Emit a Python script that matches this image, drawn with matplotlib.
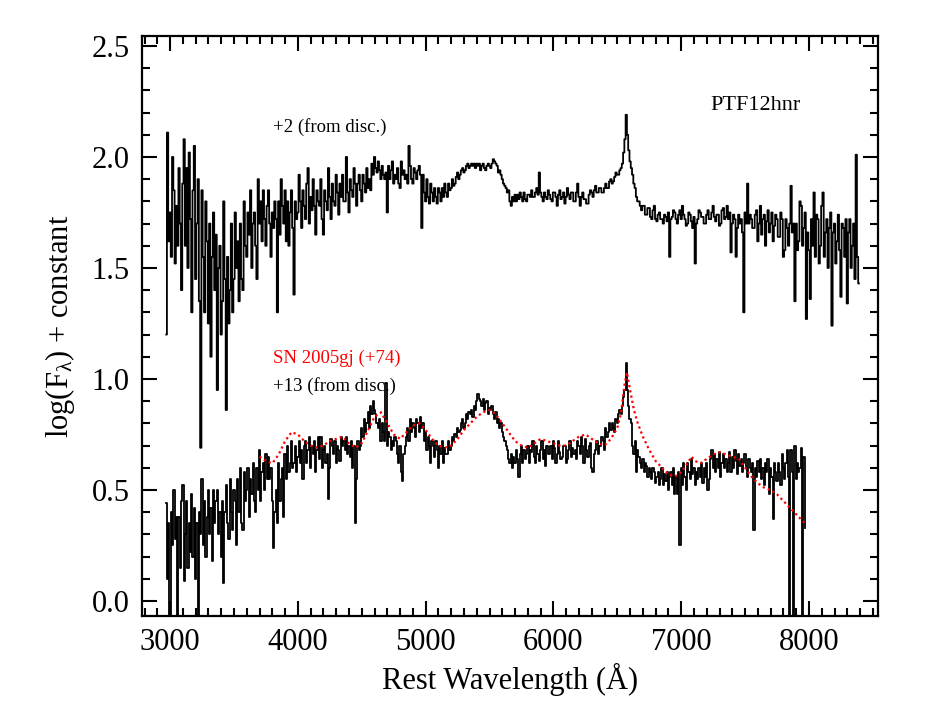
import numpy as np
import matplotlib
matplotlib.use("Agg")
import matplotlib.pyplot as plt
from matplotlib.ticker import MultipleLocator, FormatStrFormatter

plt.rcParams['font.family'] = ['Liberation Serif', 'DejaVu Serif']
plt.rcParams['mathtext.fontset'] = 'custom'
plt.rcParams['mathtext.rm'] = 'Liberation Serif'
plt.rcParams['mathtext.it'] = 'Liberation Serif'

# ---- PTF12hnr, +2 d (offset spectrum), 10 A bins starting at 2970 A
top_start, top_step = 2970, 10
top_flux = [
    # 2970
    1.20, 2.11, 1.62, 1.75, 1.55, 2.00, 1.85, 1.52, 1.78, 1.60, 1.95, 1.70, 1.40, 1.88, 2.08, 1.60, 1.95, 1.50, 2.02, 1.72,
    # 3170
    1.30, 1.85, 2.05, 1.45, 1.70, 1.90, 1.35, 0.69, 1.85, 1.55, 1.30, 1.80, 1.62, 1.25, 1.70, 1.10, 1.55, 1.75, 1.40, 1.65,
    # 3370
    0.95, 1.50, 1.60, 1.20, 1.35, 1.80, 1.45, 0.86, 1.55, 1.25, 1.40, 1.70, 1.30, 1.45, 1.75, 1.50, 1.62, 1.35, 1.70, 1.45,
    # 3570
    1.40, 1.80, 1.60, 1.55, 1.75, 1.65, 1.85, 1.50, 1.70, 1.75, 1.60, 1.45, 1.90, 1.70, 1.80, 1.62, 1.85, 1.72, 1.60, 1.78,
    # 3770
    1.85, 1.70, 1.55, 1.75, 1.68, 1.80, 1.72, 1.30, 1.80, 1.65, 1.90, 1.78, 1.70, 1.85, 1.62, 1.80, 1.60, 1.75, 1.85, 1.68,
    # 3970
    1.38, 1.80, 1.72, 1.75, 1.92, 1.80, 1.68, 1.85, 1.78, 1.72, 1.88, 1.95, 1.70, 1.82, 1.76, 1.90, 1.78, 1.65, 1.85, 1.80,
    # 4170
    1.78, 1.90, 1.72, 1.65, 1.85, 1.80, 1.76, 1.95, 1.82, 1.72, 1.88, 1.80, 1.78, 1.92, 1.84, 1.74, 1.88, 1.82, 1.92, 1.80,
    # 4370
    1.80, 2.00, 1.84, 1.75, 1.90, 1.85, 1.82, 1.95, 1.88, 1.78, 1.88, 1.92, 1.85, 1.80, 1.92, 1.88, 1.84, 1.95, 1.86, 1.90,
    # 4570
    1.85, 1.97, 1.92, 2.00, 1.95, 1.93, 1.98, 1.94, 1.90, 1.96, 1.92, 1.90, 1.93, 1.75, 1.96, 1.90, 1.94, 1.98, 1.88, 1.92,
    # 4770
    1.90, 1.95, 1.88, 1.86, 1.98, 1.92, 1.94, 1.90, 1.92, 1.88, 2.05, 1.96, 1.90, 1.88, 1.95, 1.93, 1.90, 1.94, 1.96, 1.92,
    # 4970
    1.68, 1.92, 1.84, 1.80, 1.90, 1.82, 1.79, 1.88, 1.84, 1.80, 1.86, 1.82, 1.79, 1.86, 1.84, 1.80, 1.86, 1.82, 1.88, 1.84,
    # 5170
    1.82, 1.88, 1.85, 1.86, 1.90, 1.87, 1.88, 1.91, 1.93, 1.90, 1.92, 1.94, 1.95, 1.93, 1.94, 1.96, 1.97, 1.95, 1.96, 1.97,
    # 5370
    1.96, 1.97, 1.95, 1.97, 1.96, 1.97, 1.94, 1.96, 1.97, 1.95, 1.94, 1.96, 1.97, 1.96, 1.95, 1.97, 1.99, 1.98, 1.97, 1.96,
    # 5570
    1.93, 1.94, 1.92, 1.90, 1.88, 1.87, 1.86, 1.84, 1.85, 1.80, 1.78, 1.82, 1.80, 1.83, 1.80, 1.83, 1.81, 1.84, 1.82, 1.80,
    # 5770
    1.84, 1.81, 1.80, 1.83, 1.83, 1.82, 1.85, 1.82, 1.82, 1.84, 1.86, 1.83, 1.93, 1.84, 1.82, 1.80, 1.84, 1.82, 1.81, 1.85,
    # 5970
    1.83, 1.81, 1.80, 1.84, 1.84, 1.82, 1.78, 1.83, 1.85, 1.81, 1.82, 1.84, 1.79, 1.82, 1.86, 1.83, 1.81, 1.84, 1.84, 1.80,
    # 6170
    1.80, 1.84, 1.88, 1.82, 1.78, 1.82, 1.84, 1.81, 1.81, 1.79, 1.79, 1.83, 1.85, 1.84, 1.82, 1.85, 1.87, 1.84, 1.84, 1.86,
    # 6370
    1.86, 1.84, 1.84, 1.86, 1.88, 1.86, 1.86, 1.89, 1.90, 1.88, 1.89, 1.91, 1.93, 1.92, 1.92, 1.94, 1.95, 1.97, 2.02, 2.08,
    # 6570
    2.19, 2.10, 2.03, 1.98, 1.95, 1.92, 1.88, 1.86, 1.82, 1.80, 1.80, 1.78, 1.76, 1.78, 1.78, 1.74, 1.74, 1.77, 1.77, 1.73,
    # 6770
    1.72, 1.76, 1.78, 1.72, 1.71, 1.74, 1.75, 1.72, 1.72, 1.70, 1.74, 1.73, 1.71, 1.75, 1.55, 1.72, 1.73, 1.76, 1.75, 1.72,
    # 6970
    1.70, 1.74, 1.76, 1.72, 1.78, 1.74, 1.72, 1.69, 1.70, 1.75, 1.74, 1.71, 1.68, 1.73, 1.52, 1.70, 1.72, 1.76, 1.75, 1.73,
    # 7170
    1.73, 1.70, 1.70, 1.74, 1.76, 1.72, 1.72, 1.75, 1.78, 1.73, 1.71, 1.74, 1.74, 1.69, 1.70, 1.76, 1.77, 1.72, 1.73, 1.78,
    # 7370
    1.72, 1.75, 1.57, 1.70, 1.74, 1.72, 1.55, 1.68, 1.74, 1.70, 1.72, 1.66, 1.30, 1.75, 1.70, 1.88, 1.70, 1.74, 1.72, 1.68,
    # 7570
    1.68, 1.74, 1.76, 1.62, 1.70, 1.78, 1.65, 1.72, 1.74, 1.60, 1.71, 1.76, 1.66, 1.70, 1.75, 1.62, 1.69, 1.74, 1.72, 1.64,
    # 7770
    1.64, 1.75, 1.72, 1.55, 1.58, 1.72, 1.68, 1.60, 1.70, 1.87, 1.66, 1.70, 1.35, 1.70, 1.58, 1.62, 1.80, 1.78, 1.60, 1.68,
    # 7970
    1.75, 1.27, 1.66, 1.58, 1.36, 1.72, 1.60, 1.84, 1.55, 1.74, 1.72, 1.52, 1.60, 1.78, 1.84, 1.55, 1.66, 1.72, 1.50, 1.68,
    # 8170
    1.75, 1.24, 1.66, 1.70, 1.52, 1.62, 1.74, 1.58, 1.37, 1.70, 1.68, 1.55, 1.72, 1.34, 1.66, 1.72, 1.50, 1.60, 1.70, 1.45,
    # 8370
    2.01, 1.55, 1.43,
]

# ---- PTF12hnr, +13 d, 10 A bins starting at 2970 A
bot_start, bot_step = 2970, 10
bot_flux = [
    # 2970
    0.44, 0.10, 0.35, -0.10, 0.40, 0.25, 0.50, 0.28, 0.38, -0.10, 0.38, 0.15, 0.45, 0.52, 0.09, 0.30, 0.45, 0.15, 0.35, 0.22,
    # 3170
    0.48, 0.20, 0.42, 0.10, 0.35, -0.10, 0.40, 0.30, 0.55, 0.25, 0.45, 0.20, 0.38, 0.50, 0.30, 0.42, 0.18, 0.50, 0.35, 0.45,
    # 3370
    0.50, 0.30, 0.40, 0.20, 0.45, 0.08, 0.40, 0.52, 0.35, 0.28, 0.55, 0.40, 0.32, 0.50, 0.45, 0.25, 0.55, 0.40, 0.60, 0.35,
    # 3570
    0.32, 0.58, 0.45, 0.50, 0.60, 0.38, 0.55, 0.48, 0.62, 0.45, 0.40, 0.60, 0.50, 0.68, 0.45, 0.58, 0.62, 0.50, 0.66, 0.55,
    # 3770
    0.65, 0.55, 0.60, 0.45, 0.24, 0.40, 0.50, 0.35, 0.62, 0.45, 0.55, 0.60, 0.38, 0.66, 0.55, 0.70, 0.58, 0.62, 0.72, 0.60,
    # 3970
    0.62, 0.70, 0.58, 0.65, 0.72, 0.62, 0.68, 0.55, 0.70, 0.72, 0.62, 0.68, 0.74, 0.60, 0.70, 0.66, 0.72, 0.58, 0.68, 0.74,
    # 4170
    0.64, 0.74, 0.60, 0.68, 0.70, 0.62, 0.66, 0.46, 0.60, 0.73, 0.70, 0.66, 0.72, 0.62, 0.70, 0.68, 0.63, 0.74, 0.70, 0.72,
    # 4370
    0.68, 0.74, 0.66, 0.70, 0.65, 0.72, 0.60, 0.70, 0.35, 0.55, 0.72, 0.68, 0.70, 0.78, 0.74, 0.82, 0.76, 0.80, 0.85, 0.78,
    # 4570
    0.88, 0.84, 0.90, 0.86, 0.84, 0.80, 0.78, 0.82, 0.72, 0.80, 0.76, 0.72, 0.98, 0.70, 0.76, 0.74, 0.68, 0.72, 0.70, 0.74,
    # 4770
    0.72, 0.66, 0.62, 0.70, 0.58, 0.54, 0.66, 0.70, 0.74, 0.78, 0.72, 0.82, 0.76, 0.80, 0.78, 0.74, 0.82, 0.80, 0.76, 0.83,
    # 4970
    0.78, 0.80, 0.72, 0.76, 0.68, 0.74, 0.70, 0.62, 0.72, 0.70, 0.65, 0.72, 0.68, 0.60, 0.70, 0.66, 0.72, 0.62, 0.69, 0.66,
    # 5170
    0.66, 0.72, 0.68, 0.70, 0.74, 0.72, 0.75, 0.74, 0.78, 0.76, 0.77, 0.80, 0.82, 0.78, 0.80, 0.84, 0.82, 0.85, 0.84, 0.86,
    # 5370
    0.83, 0.88, 0.86, 0.90, 0.93, 0.91, 0.90, 0.88, 0.91, 0.86, 0.89, 0.90, 0.84, 0.87, 0.86, 0.88, 0.84, 0.82, 0.85, 0.80,
    # 5570
    0.82, 0.78, 0.80, 0.76, 0.74, 0.72, 0.70, 0.68, 0.64, 0.62, 0.66, 0.60, 0.65, 0.62, 0.68, 0.64, 0.56, 0.66, 0.70, 0.62,
    # 5770
    0.68, 0.64, 0.66, 0.70, 0.62, 0.68, 0.67, 0.72, 0.65, 0.62, 0.70, 0.66, 0.63, 0.68, 0.72, 0.64, 0.68, 0.61, 0.70, 0.66,
    # 5970
    0.66, 0.70, 0.64, 0.72, 0.69, 0.62, 0.66, 0.72, 0.67, 0.64, 0.65, 0.70, 0.70, 0.62, 0.64, 0.68, 0.72, 0.65, 0.69, 0.66,
    # 6170
    0.68, 0.64, 0.72, 0.70, 0.66, 0.74, 0.70, 0.62, 0.73, 0.68, 0.65, 0.70, 0.71, 0.60, 0.58, 0.66, 0.68, 0.72, 0.66, 0.70,
    # 6370
    0.70, 0.74, 0.72, 0.68, 0.78, 0.74, 0.76, 0.80, 0.77, 0.80, 0.78, 0.76, 0.82, 0.80, 0.84, 0.86, 0.84, 0.88, 0.92, 0.95,
    # 6570
    1.07, 0.95, 0.88, 0.82, 0.80, 0.70, 0.66, 0.72, 0.58, 0.68, 0.65, 0.62, 0.60, 0.64, 0.58, 0.62, 0.61, 0.56, 0.60, 0.58,
    # 6770
    0.55, 0.60, 0.58, 0.53, 0.56, 0.58, 0.52, 0.55, 0.60, 0.52, 0.57, 0.54, 0.58, 0.50, 0.56, 0.58, 0.52, 0.60, 0.48, 0.56,
    # 6970
    0.48, 0.58, 0.25, 0.60, 0.52, 0.62, 0.56, 0.50, 0.62, 0.58, 0.55, 0.64, 0.57, 0.60, 0.52, 0.58, 0.55, 0.60, 0.56, 0.62,
    # 7170
    0.53, 0.60, 0.56, 0.62, 0.50, 0.55, 0.64, 0.68, 0.60, 0.66, 0.58, 0.64, 0.60, 0.67, 0.56, 0.62, 0.66, 0.60, 0.64, 0.58,
    # 7370
    0.62, 0.67, 0.58, 0.65, 0.60, 0.68, 0.63, 0.57, 0.66, 0.61, 0.64, 0.58, 0.62, 0.66, 0.60, 0.56, 0.64, 0.60, 0.58, 0.62,
    # 7570
    0.32, 0.60, 0.56, 0.63, 0.58, 0.64, 0.55, 0.60, 0.52, 0.62, 0.58, 0.64, 0.48, 0.60, 0.56, 0.37, 0.62, 0.58, 0.54, 0.62,
    # 7770
    0.58, 0.52, 0.66, 0.60, 0.55, 0.62, 0.68, 0.56, -0.10, 0.68, 0.58, -0.10, 0.70, 0.55, 0.62, 0.58, 0.60, 0.69, -0.10, 0.65,
    # 7970
    0.33,
]

# ---- SN 2005gj (+74 d), comparison spectrum
sn05gj_wl = [3700, 3750, 3800, 3850, 3900, 3950, 4000, 4050, 4100, 4150,
             4200, 4250, 4300, 4350, 4400, 4450, 4500, 4550, 4600, 4650,
             4700, 4750, 4800, 4850, 4900, 4950, 5000, 5050, 5100, 5150,
             5200, 5250, 5300, 5350, 5400, 5450, 5500, 5550, 5600, 5650,
             5700, 5750, 5800, 5850, 5900, 5950, 6000, 6050, 6100, 6150,
             6200, 6250, 6300, 6350, 6400, 6450, 6500, 6530, 6555, 6575,
             6600, 6630, 6660, 6700, 6750, 6800, 6850, 6900, 6950, 7000,
             7050, 7080, 7110, 7150, 7200, 7250, 7300, 7350, 7400, 7450,
             7500, 7550, 7600, 7650, 7700, 7750, 7800, 7850, 7900, 7950, 7970]
sn05gj_flux = [0.65, 0.63, 0.62, 0.66, 0.72, 0.76, 0.75, 0.72, 0.70, 0.69,
               0.70, 0.72, 0.73, 0.74, 0.71, 0.69, 0.71, 0.77, 0.83, 0.85,
               0.80, 0.75, 0.73, 0.76, 0.79, 0.80, 0.77, 0.73, 0.70, 0.69,
               0.70, 0.73, 0.77, 0.80, 0.83, 0.85, 0.86, 0.84, 0.80, 0.76,
               0.72, 0.70, 0.69, 0.71, 0.73, 0.72, 0.71, 0.70, 0.70, 0.72,
               0.74, 0.75, 0.73, 0.71, 0.70, 0.73, 0.78, 0.85, 0.97, 1.03,
               0.95, 0.86, 0.80, 0.74, 0.68, 0.63, 0.60, 0.57, 0.56, 0.58,
               0.62, 0.65, 0.63, 0.62, 0.64, 0.66, 0.67, 0.66, 0.65, 0.64,
               0.60, 0.56, 0.53, 0.51, 0.50, 0.48, 0.45, 0.42, 0.39, 0.36, 0.35]

labels = {
    'top_epoch': '+2 (from disc.)',
    'object': 'PTF12hnr',
    'comparison': 'SN 2005gj (+74)',
    'bot_epoch': '+13 (from disc.)',
}

top_wl = top_start + top_step * np.arange(len(top_flux))
bot_wl = bot_start + bot_step * np.arange(len(bot_flux))

fig = plt.figure(figsize=(9.41, 7.27), dpi=100)
ax = fig.add_axes([142 / 941, 111 / 727, 736 / 941, 580 / 727])

ax.plot(top_wl, top_flux, color='black', lw=1.3, drawstyle='steps-mid')
ax.plot(bot_wl, bot_flux, color='black', lw=1.3, drawstyle='steps-mid')
ax.plot(sn05gj_wl, sn05gj_flux, color='red', lw=1.6, linestyle=(0, (1, 1.4)))

ax.set_xlim(2780, 8540)
ax.set_ylim(-0.068, 2.545)

ax.xaxis.set_major_locator(MultipleLocator(1000))
ax.xaxis.set_minor_locator(MultipleLocator(100))
ax.yaxis.set_major_locator(MultipleLocator(0.5))
ax.yaxis.set_minor_locator(MultipleLocator(0.1))
ax.yaxis.set_major_formatter(FormatStrFormatter('%.1f'))

ax.tick_params(which='both', direction='in', top=True, right=True, width=1.5,
               labelsize=22, color='black')
ax.tick_params(which='major', length=11, pad=9)
ax.tick_params(which='minor', length=5.5)
for s in ax.spines.values():
    s.set_linewidth(1.6)

ax.set_xlabel('Rest Wavelength (Å)', fontsize=22, labelpad=4)
ax.set_ylabel(r'log(F$_{\lambda}$) + constant', fontsize=22, labelpad=10)

ax.text(3807, 2.135, labels['top_epoch'], fontsize=13.5, va='center', ha='left')
ax.text(7232, 2.23, labels['object'], fontsize=16, va='center', ha='left')
ax.text(3807, 1.095, labels['comparison'], fontsize=13.5, va='center', ha='left', color='red')
ax.text(3807, 0.968, labels['bot_epoch'], fontsize=13.5, va='center', ha='left')

fig.savefig('out.png', dpi=100)
